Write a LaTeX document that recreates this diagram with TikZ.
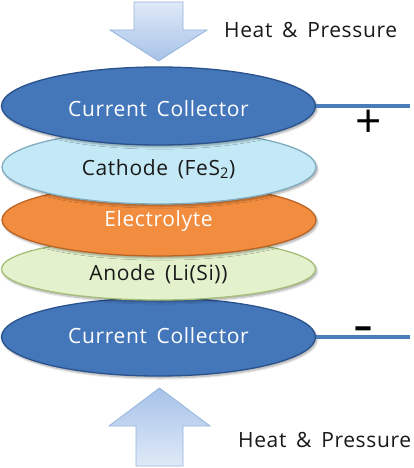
\documentclass[tikz,border=0pt]{standalone}
\usepackage{fontspec}
\setmainfont{Open Sans}[LetterSpace=3,WordSpace=1.6]
\newfontfamily\symfont{Open Sans}
\usetikzlibrary{shapes.geometric,shadows.blur}
\definecolor{ccfill}{RGB}{68,118,186}
\definecolor{ccdraw}{RGB}{42,82,140}
\definecolor{cafill}{RGB}{196,233,246}
\definecolor{cadraw}{RGB}{128,172,192}
\definecolor{elfill}{RGB}{242,140,62}
\definecolor{eldraw}{RGB}{188,100,36}
\definecolor{anfill}{RGB}{228,241,205}
\definecolor{andraw}{RGB}{165,190,120}
\definecolor{wirecol}{RGB}{74,126,187}
\definecolor{arrlight}{RGB}{224,234,247}
\definecolor{arrdark}{RGB}{166,194,232}
\definecolor{arrdraw}{RGB}{150,180,220}
\begin{document}
\begin{tikzpicture}[x=1pt,y=-1pt,
  disc/.style={ellipse, inner sep=0pt, minimum width=314pt, line width=1.3pt,
    blur shadow={shadow xshift=1.5pt, shadow yshift=-2pt, shadow blur steps=6, shadow opacity=35}},
  ccdisc/.style={disc, fill=ccfill, draw=ccdraw},
  cadisc/.style={disc, fill=cafill, draw=cadraw},
  eldisc/.style={disc, fill=elfill, draw=eldraw},
  andisc/.style={disc, fill=anfill, draw=andraw},
  lbl/.style={anchor=base, inner sep=0pt, font=\fontsize{21}{25}\selectfont},
  wlbl/.style={lbl, text=white},
  klbl/.style={lbl, text=black!90},
  wire/.style={draw=wirecol, line width=3.2pt},
  bigarrow/.style={draw=arrdraw, line width=0.8pt}
]
\useasboundingbox (0,0) rectangle (414,468);

% arrows
\shade[bigarrow, top color=arrlight, bottom color=arrdark]
  (134,2) -- (183,2) -- (183,30) -- (207,30) -- (158.5,61) -- (110,30) -- (134,30) -- cycle;
\shade[bigarrow, top color=arrdark, bottom color=arrlight]
  (136,466) -- (183,466) -- (183,426) -- (210,426) -- (159.5,388) -- (109,426) -- (136,426) -- cycle;

% discs, bottom to top
\node[ccdisc, minimum height=78pt] (ccb) at (158.5,337) {};
\node[andisc, minimum height=62pt] (an) at (158.5,269) {};
\node[eldisc, minimum height=72pt] (el) at (159,220) {};
\node[cadisc, minimum height=74pt] (ca) at (159,167) {};
\node[ccdisc, minimum height=78pt] (cct) at (158.5,106) {};

% wires
\coordinate (wt) at (410,107);
\coordinate (wb) at (410,338);
\draw[wire] (cct.east) -- (cct.east -| wt);
\draw[wire] (ccb.east) -- (ccb.east -| wb);

% labels
\node[wlbl] (tcct) at (158.5,117) {Current Collector};
\node[klbl] (tca) at (158.5,175) {Cathode (FeS\textsubscript{2})};
\node[wlbl] (tel) at (158.5,226) {Electrolyte};
\node[klbl] (tan) at (158.5,280) {Anode (Li(Si))};
\node[wlbl] (tccb) at (158.5,343) {Current Collector};

\node[klbl, anchor=base west] (h1) at (224,38) {Heat \& Pressure};
\node[klbl, anchor=base west] (h2) at (238,447) {Heat \& Pressure};

\node[inner sep=0pt, font=\symfont\fontsize{46}{46}\selectfont] (plus) at (369,124) {+};
\node[inner sep=0pt, font=\symfont\bfseries\fontsize{36}{36}\selectfont] (minus) at (363,333) {–};
\end{tikzpicture}
\end{document}
